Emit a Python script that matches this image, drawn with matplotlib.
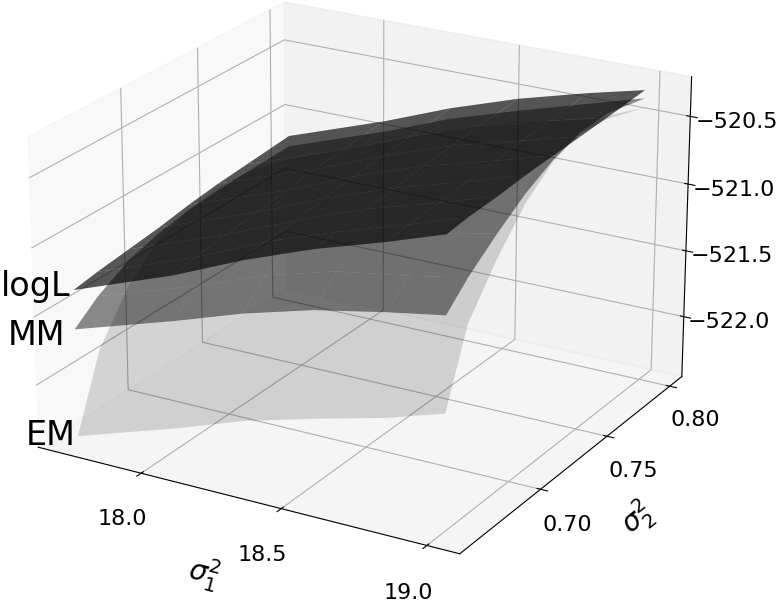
import numpy as np
import matplotlib
matplotlib.use("Agg")
import matplotlib.pyplot as plt

sigma1 = [17.635, 18.0, 18.25, 18.5, 18.75, 18.95]
sigma2 = [0.665, 0.68, 0.70, 0.72, 0.74, 0.76, 0.78, 0.81]

# rows = sigma2, columns = sigma1
em = [[-522.54, -522.3, -522.12, -521.98, -521.85, -521.72],
      [-522.0, -521.78, -521.6, -521.45, -521.32, -521.2],
      [-521.65, -521.43, -521.24, -521.09, -520.98, -520.88],
      [-521.45, -521.2, -521.0, -520.84, -520.72, -520.62],
      [-521.35, -521.08, -520.87, -520.7, -520.56, -520.45],
      [-521.32, -521.03, -520.82, -520.64, -520.49, -520.38],
      [-521.33, -521.03, -520.82, -520.65, -520.51, -520.40],
      [-521.42, -521.14, -520.94, -520.78, -520.67, -520.50]]
mm = [[-521.74, -521.51, -521.34, -521.20, -521.10, -521.03],
      [-521.60, -521.36, -521.17, -521.03, -520.95, -520.87],
      [-521.47, -521.22, -521.03, -520.89, -520.79, -520.70],
      [-521.40, -521.15, -520.95, -520.78, -520.65, -520.55],
      [-521.36, -521.10, -520.90, -520.72, -520.56, -520.44],
      [-521.34, -521.07, -520.87, -520.69, -520.51, -520.37],
      [-521.33, -521.06, -520.86, -520.68, -520.50, -520.36],
      [-521.32, -521.06, -520.86, -520.70, -520.55, -520.43]]
logl = [[-521.45, -521.18, -520.96, -520.77, -520.61, -520.47],
        [-521.42, -521.15, -520.93, -520.75, -520.59, -520.45],
        [-521.39, -521.12, -520.91, -520.72, -520.57, -520.44],
        [-521.36, -521.09, -520.88, -520.70, -520.55, -520.42],
        [-521.32, -521.06, -520.85, -520.67, -520.53, -520.41],
        [-521.29, -521.03, -520.83, -520.65, -520.51, -520.40],
        [-521.27, -521.01, -520.81, -520.63, -520.49, -520.39],
        [-521.24, -520.98, -520.78, -520.61, -520.47, -520.37]]

X, Y = np.meshgrid(sigma1, sigma2)

fig = plt.figure(figsize=(7.77, 6.0), dpi=100)
ax = fig.add_axes([-0.011, -0.06, 0.94, 1.217], projection="3d")
ax.plot_surface(X, Y, np.array(em), color="k", alpha=0.15, shade=False, linewidth=0)
ax.plot_surface(X, Y, np.array(mm), color="k", alpha=0.45, shade=False, linewidth=0)
ax.plot_surface(X, Y, np.array(logl), color="k", alpha=0.65, shade=False, linewidth=0)

ax.set_xlim(17.62, 19.11)
ax.set_ylim(0.643, 0.81)
ax.set_zlim(-522.46, -520.21)
ax.set_xticks([18.0, 18.5, 19.0])
ax.set_yticks([0.70, 0.75, 0.80])
ax.set_zticks([-522.0, -521.5, -521.0, -520.5])
ax.set_yticklabels(["0.70", "0.75", "0.80"])
ax.tick_params(labelsize=16)
ax.tick_params(axis="x", pad=12)
ax.tick_params(axis="y", pad=9)
ax.tick_params(axis="z", pad=12)
ax.set_xlabel(r"$\sigma_1^2$", fontsize=20, labelpad=20)
ax.set_ylabel(r"$\sigma_2^2$", fontsize=20, labelpad=18)
ax.set_box_aspect((4, 4, 2.75))
ax.view_init(elev=22, azim=-60)

fig.text(0.091, 0.507, "logL", fontsize=24, ha="right", va="baseline")
fig.text(0.084, 0.425, "MM", fontsize=24, ha="right", va="baseline")
fig.text(0.097, 0.258, "EM", fontsize=24, ha="right", va="baseline")
fig.savefig("out.png", dpi=100)
